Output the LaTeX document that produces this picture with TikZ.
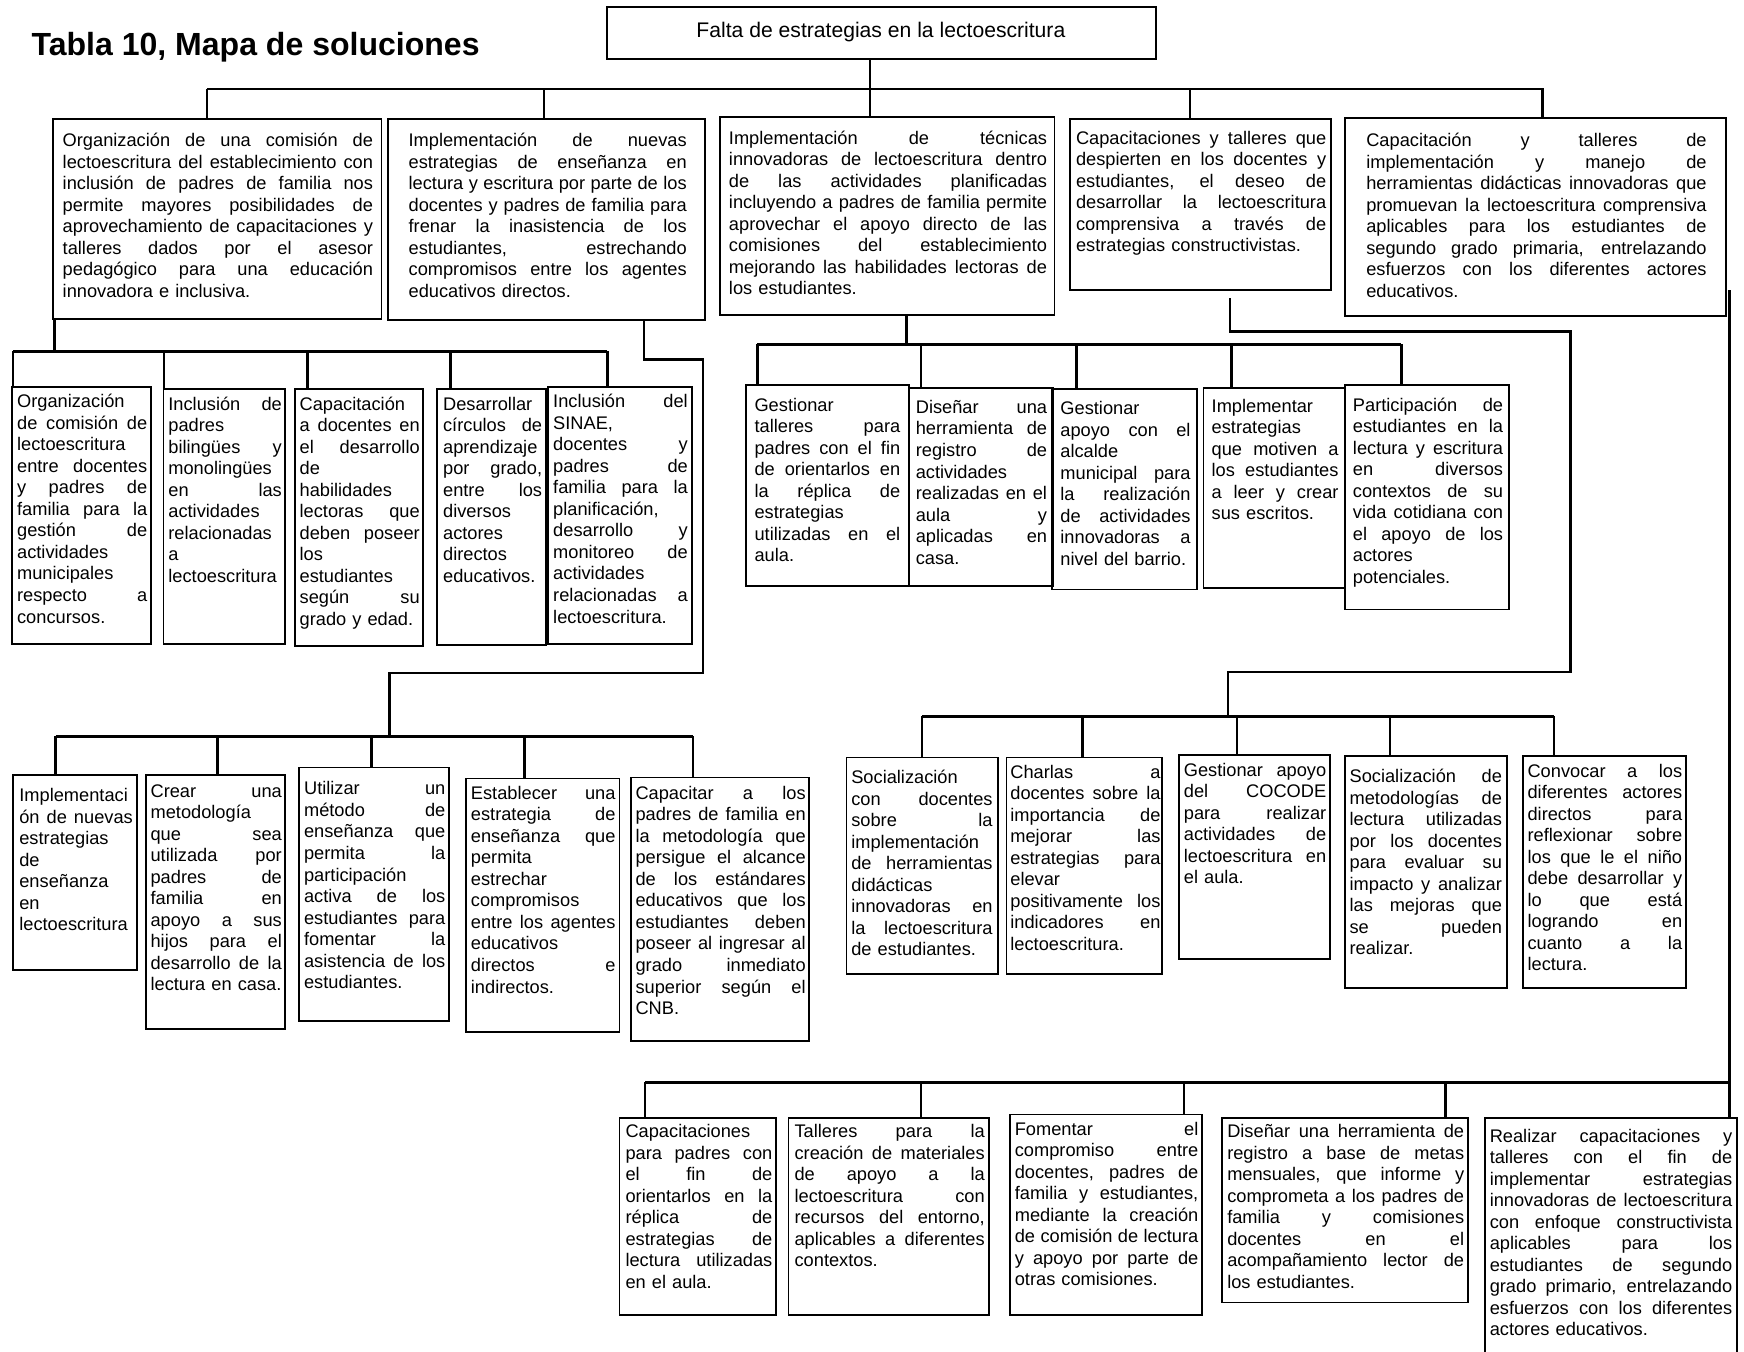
\documentclass[tikz,border=0pt]{standalone}
\usepackage{fontspec}
\setmainfont{Liberation Sans}
\usetikzlibrary{fit,calc}
\newcommand\J[1]{\leavevmode\hbox to \tw pt{\spaceskip=\fontdimen2\font plus 1fil\xspaceskip=\spaceskip #1}\\}
\tikzset{
  boxst/.style={draw, line width=0.8pt, inner sep=0pt},
  txt/.style={inner sep=0pt, anchor=north west, font=\fontsize{8.2}{9.67}\selectfont},
  conn/.style={line width=1.15pt},
}
\newcommand\mkbox[9]{%
  \node[boxst, fit={(#2,#3) (#4,#5)}] (#1) {};
  \pgfmathsetmacro\tw{(#7-#6)/2}
  \node[txt, text width=\tw pt] (#1t) at (#6,#8-9.2) {\strut #9};
}
\begin{document}
\begin{tikzpicture}[x=0.5pt,y=-0.5pt]
\useasboundingbox (0,0) rectangle (1568,1215);
\clip (0,0) rectangle (1568,1215);
\fill[white] (0,0) rectangle (1568,1215);

% title and root
\node[anchor=base west, inner sep=0pt, font=\bfseries\fontsize{14.4}{17}\selectfont] (title) at (28,49.5) {Tabla 10, Mapa de soluciones};
\node[boxst, fit={(546,6) (1039,53)}] (top) {};
\node[anchor=base, inner sep=0pt, font=\fontsize{9.5}{11}\selectfont] (topt) at (792,34) {Falta de estrategias en la lectoescritura};

% level 1
\mkbox{b1}{48}{107}{343}{287}{56}{335}{127}{%
\J{Organización de una comisión de}
\J{lectoescritura del establecimiento con}
\J{inclusión de padres de familia nos}
\J{permite mayores posibilidades de}
\J{aprovechamiento de capacitaciones y}
\J{talleres dados por el asesor}
\J{pedagógico para una educación}
innovadora e inclusiva.}
\mkbox{b2}{349}{107}{634}{288}{367}{617}{127}{%
\J{Implementación de nuevas}
\J{estrategias de enseñanza en}
\J{lectura y escritura por parte de los}
\J{docentes y padres de familia para}
\J{frenar la inasistencia de los}
\J{estudiantes, estrechando}
\J{compromisos entre los agentes}
educativos directos.}
\mkbox{b3}{647}{105}{948}{283}{655}{941}{125}{%
\J{Implementación de técnicas}
\J{innovadoras de lectoescritura dentro}
\J{de las actividades planificadas}
\J{incluyendo a padres de familia permite}
\J{aprovechar el apoyo directo de las}
\J{comisiones del establecimiento}
\J{mejorando las habilidades lectoras de}
los estudiantes.}
\mkbox{b4}{962}{107}{1197}{261}{967}{1192}{125}{%
\J{Capacitaciones y talleres que}
\J{despierten en los docentes y}
\J{estudiantes, el deseo de}
\J{desarrollar la lectoescritura}
\J{comprensiva a través de}
estrategias constructivistas.}
\mkbox{b5}{1209}{106}{1552}{284}{1228}{1534}{127}{%
\J{Capacitación y talleres de}
\J{implementación y manejo de}
\J{herramientas didácticas innovadoras que}
\J{promuevan la lectoescritura comprensiva}
\J{aplicables para los estudiantes de}
\J{segundo grado primaria, entrelazando}
\J{esfuerzos con los diferentes actores}
educativos.}

% level 2 left
\mkbox{c1}{11}{348}{136}{579}{15}{132}{362}{%
Organización\\
\J{de comisión de}
lectoescritura\\
\J{entre docentes}
\J{y padres de}
\J{familia para la}
\J{gestión de}
actividades\\
municipales\\
\J{respecto a}
concursos.}
\mkbox{c2}{147}{350}{256}{579}{151}{253}{364}{%
\J{Inclusión de}
padres\\
\J{bilingües y}
monolingües\\
\J{en las}
actividades\\
relacionadas\\
a\\
lectoescritura}
\mkbox{c3}{265}{350}{380}{581}{269}{377}{364}{%
Capacitación\\
\J{a docentes en}
\J{el desarrollo}
de\\
habilidades\\
\J{lectoras que}
\J{deben poseer}
los\\
estudiantes\\
\J{según su}
grado y edad.}
\mkbox{c4}{393}{350}{491}{580}{398}{487}{364}{%
Desarrollar\\
\J{círculos de}
aprendizaje\\
\J{por grado,}
\J{entre los}
diversos\\
actores\\
directos\\
educativos.}
\mkbox{c5}{493}{348}{622}{579}{497}{618}{362}{%
\J{Inclusión del}
SINAE,\\
\J{docentes y}
\J{padres de}
\J{familia para la}
planificación,\\
\J{desarrollo y}
\J{monitoreo de}
actividades\\
\J{relacionadas a}
lectoescritura.}

% level 2 middle
\mkbox{e1}{671}{346}{817}{527}{678}{809}{365}{%
Gestionar\\
\J{talleres para}
\J{padres con el fin}
\J{de orientarlos en}
\J{la réplica de}
estrategias\\
\J{utilizadas en el}
aula.}
\mkbox{e2}{817}{349}{947}{527}{823}{941}{367}{%
\J{Diseñar una}
\J{herramienta de}
\J{registro de}
actividades\\
\J{realizadas en el}
\J{aula y}
\J{aplicadas en}
casa.}
\mkbox{e3}{946}{350}{1076}{530}{953}{1070}{368}{%
Gestionar\\
\J{apoyo con el}
alcalde\\
\J{municipal para}
\J{la realización}
\J{de actividades}
\J{innovadoras a}
nivel del barrio.}
\mkbox{e4}{1082}{349}{1209}{529}{1089}{1203}{366}{%
Implementar\\
estrategias\\
\J{que motiven a}
\J{los estudiantes}
\J{a leer y crear}
sus escritos.}
\mkbox{e5}{1209}{346}{1357}{548}{1216}{1351}{365}{%
\J{Participación de}
\J{estudiantes en la}
\J{lectura y escritura}
\J{en diversos}
\J{contextos de su}
\J{vida cotidiana con}
\J{el apoyo de los}
actores\\
potenciales.}

% level 3 left
\mkbox{d1}{12}{697}{123}{872}{17}{119}{716}{%
Implementaci\\
\J{ón de nuevas}
estrategias\\
de\\
enseñanza\\
en\\
lectoescritura}
\mkbox{d2}{131}{697}{256}{925}{135}{253}{712}{%
\J{Crear una}
metodología\\
\J{que sea}
\J{utilizada por}
\J{padres de}
\J{familia en}
\J{apoyo a sus}
\J{hijos para el}
\J{desarrollo de la}
lectura en casa.}
\mkbox{d3}{269}{690}{404}{918}{273}{400}{710}{%
\J{Utilizar un}
\J{método de}
\J{enseñanza que}
\J{permita la}
participación\\
\J{activa de los}
\J{estudiantes para}
\J{fomentar la}
\J{asistencia de los}
estudiantes.}
\mkbox{d4}{419}{700}{557}{928}{423}{553}{714}{%
\J{Establecer una}
\J{estrategia de}
\J{enseñanza que}
permita\\
estrechar\\
compromisos\\
\J{entre los agentes}
educativos\\
\J{directos e}
indirectos.}
\mkbox{d5}{567}{699}{727}{936}{571}{724}{714}{%
\J{Capacitar a los}
\J{padres de familia en}
\J{la metodología que}
\J{persigue el alcance}
\J{de los estándares}
\J{educativos que los}
\J{estudiantes deben}
\J{poseer al ingresar al}
\J{grado inmediato}
\J{superior según el}
CNB.}

% level 3 right
\mkbox{f1}{761}{681}{897}{876}{765}{892}{700}{%
Socialización\\
\J{con docentes}
\J{sobre la}
implementación\\
\J{de herramientas}
didácticas\\
\J{innovadoras en}
\J{la lectoescritura}
de estudiantes.}
\mkbox{f2}{905}{681}{1045}{876}{908}{1043}{695}{%
\J{Charlas a}
\J{docentes sobre la}
\J{importancia de}
\J{mejorar las}
\J{estrategias para}
elevar\\
\J{positivamente los}
\J{indicadores en}
lectoescritura.}
\mkbox{f3}{1060}{679}{1196}{862}{1064}{1192}{693}{%
\J{Gestionar apoyo}
\J{del COCODE}
\J{para realizar}
\J{actividades de}
\J{lectoescritura en}
el aula.}
\mkbox{f4}{1209}{680}{1355}{888}{1213}{1350}{699}{%
\J{Socialización de}
\J{metodologías de}
\J{lectura utilizadas}
\J{por los docentes}
\J{para evaluar su}
\J{impacto y analizar}
\J{las mejoras que}
\J{se pueden}
realizar.}
\mkbox{f5}{1369}{680}{1516}{888}{1373}{1512}{694}{%
\J{Convocar a los}
\J{diferentes actores}
\J{directos para}
\J{reflexionar sobre}
\J{los que le el niño}
\J{debe desarrollar y}
\J{lo que está}
\J{logrando en}
\J{cuanto a la}
lectura.}

% level 4
\mkbox{g1}{557}{1005}{698}{1182}{562}{694}{1018}{%
Capacitaciones\\
\J{para padres con}
\J{el fin de}
\J{orientarlos en la}
\J{réplica de}
\J{estrategias de}
\J{lectura utilizadas}
en el aula.}
\mkbox{g2}{709}{1005}{889}{1182}{714}{885}{1018}{%
\J{Talleres para la}
\J{creación de materiales}
\J{de apoyo a la}
\J{lectoescritura con}
\J{recursos del entorno,}
\J{aplicables a diferentes}
contextos.}
\mkbox{g3}{908}{1002}{1081}{1182}{912}{1077}{1016}{%
\J{Fomentar el}
\J{compromiso entre}
\J{docentes, padres de}
\J{familia y estudiantes,}
\J{mediante la creación}
\J{de comisión de lectura}
\J{y apoyo por parte de}
otras comisiones.}
\mkbox{g4}{1099}{1005}{1320}{1171}{1103}{1316}{1018}{%
\J{Diseñar una herramienta de}
\J{registro a base de metas}
\J{mensuales, que informe y}
\J{comprometa a los padres de}
\J{familia y comisiones}
\J{docentes en el}
\J{acompañamiento lector de}
los estudiantes.}
\mkbox{g5}{1335}{1005}{1562}{1240}{1339}{1557}{1022}{%
\J{Realizar capacitaciones y}
\J{talleres con el fin de}
\J{implementar estrategias}
\J{innovadoras de lectoescritura}
\J{con enfoque constructivista}
\J{aplicables para los}
\J{estudiantes de segundo}
\J{grado primario, entrelazando}
\J{esfuerzos con los diferentes}
actores educativos.}

% ---------- connectors ----------
% root to level 1
\coordinate (h0) at (782,80);
\coordinate (h0a) at (186,80);
\coordinate (h0b) at (1388,80);
\draw[conn] (h0 |- top.south) -- (h0);
\draw[conn] (h0a) -- (h0b);
\foreach \n/\x in {b1/186,b2/489,b3/782,b4/1070,b5/1387}
  \draw[conn] (\x,80) -- (\x,0 |- \n.north);

% b1 -> c row
\coordinate (h1) at (49,316);
\draw[conn] (h1 |- b1.south) -- (h1);
\draw[conn] (11.6,316) -- (546,316);
\foreach \n/\x in {c1/11.6,c2/147.5,c3/276.6,c4/405,c5/546}
  \draw[conn] (\x,316) -- (\x,0 |- \n.north);

% b2 -> d row
\coordinate (h2) at (579,323);
\draw[conn] (h2 |- b2.south) -- (h2) -- (632,323) -- (632,605) -- (350,605) -- (350,662);
\draw[conn] (50,662) -- (623,662);
\foreach \n/\x in {d1/50,d2/195.7,d3/334,d4/471.8,d5/623}
  \draw[conn] (\x,662) -- (\x,0 |- \n.north);

% b3 -> e row
\coordinate (h3) at (815,309.6);
\draw[conn] (h3 |- b3.south) -- (h3);
\draw[conn] (681,309.6) -- (1260,309.6);
\foreach \n/\x in {e1/681,e2/828,e3/967.6,e4/1107,e5/1260}
  \draw[conn] (\x,309.6) -- (\x,0 |- \n.north);

% b4 -> f row
\coordinate (h4) at (1106,268);
\draw[conn] (h4) -- (1106,298) -- (1412,298) -- (1412,604) -- (1104,604) -- (1104,644);
\draw[conn] (829,644) -- (1397,644);
\foreach \n/\x in {f1/829,f2/973,f3/1112,f4/1249.6,f5/1397}
  \draw[conn] (\x,644) -- (\x,0 |- \n.north);

% b5 -> g row
\coordinate (h5) at (1555,261);
\draw[conn, line width=1.4pt] (h5) -- (1555,0 |- g5.north);
\draw[conn] (580,973) -- (1555,973);
\foreach \n/\x in {g1/580,g2/828,g3/1064.5,g4/1299.5}
  \draw[conn] (\x,973) -- (\x,0 |- \n.north);
\end{tikzpicture}
\end{document}
